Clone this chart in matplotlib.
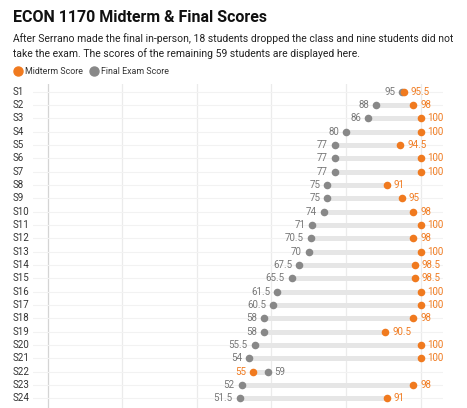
import matplotlib
matplotlib.use("Agg")
import matplotlib.pyplot as plt
from matplotlib.lines import Line2D

plt.rcParams['font.family'] = ['Roboto', 'DejaVu Sans']

students = ["S1", "S2", "S3", "S4", "S5", "S6", "S7", "S8", "S9", "S10", "S11", "S12",
            "S13", "S14", "S15", "S16", "S17", "S18", "S19", "S20", "S21", "S22", "S23", "S24"]
midterm = [95.5, 98, 100, 100, 94.5, 100, 100, 91, 95, 98, 100, 98,
           100, 98.5, 98.5, 100, 100, 98, 90.5, 100, 100, 55, 98, 91]
final = [95, 88, 86, 80, 77, 77, 77, 75, 75, 74, 71, 70.5,
         70, 67.5, 65.5, 61.5, 60.5, 58, 58, 55.5, 54, 59, 52, 51.5]
x_ticks = [0, 20, 40, 60, 80, 100]

ORANGE = "#f07a1f"
GRAY = "#888888"
BAR = "#e6e6e6"

W, H = 467, 408
fig = plt.figure(figsize=(W / 100, H / 100), dpi=100)
fig.patch.set_facecolor("white")

left_px, right_px, top_px, bottom_px = 33, 443, 84, 408
ax = fig.add_axes([left_px / W, 1 - bottom_px / H, (right_px - left_px) / W, (bottom_px - top_px) / H])
ax.set_xlim(-3.9, 106)
ax.set_ylim(23.73, -0.58)
ax.axis("off")

for t in x_ticks:
    ax.axvline(t, color="#d4d4d4" if t == 0 else "#ebebeb", lw=0.9, zorder=0)

def fmt(v):
    return f"{v:g}"

for i, (name, m, f) in enumerate(zip(students, midterm, final)):
    ax.axhline(i, color="#f2f2f2", lw=0.8, zorder=0)
    ax.plot([min(m, f), max(m, f)], [i, i], color=BAR, lw=3.6, solid_capstyle="butt", zorder=1)
    ax.scatter([f], [i], s=30, color=GRAY, zorder=3, linewidths=0)
    ax.scatter([m], [i], s=30, color=ORANGE, zorder=4, linewidths=0)
    if m >= f:
        lo, lo_c, hi, hi_c = f, GRAY, m, ORANGE
    else:
        lo, lo_c, hi, hi_c = m, ORANGE, f, GRAY
    ax.annotate(fmt(lo), (lo, i), xytext=(-5, 0), textcoords="offset points",
                ha="right", va="center", fontsize=7, color="#777777" if lo_c == GRAY else ORANGE)
    ax.annotate(fmt(hi), (hi, i), xytext=(5, 0), textcoords="offset points",
                ha="left", va="center", fontsize=7, color="#777777" if hi_c == GRAY else ORANGE)
    fig.text(13 / W, 1 - (91.7 + 13.33 * i) / H, name, ha="left", va="center",
             fontsize=7, color="#333333")

fig.text(13 / W, 1 - 17 / H, "ECON 1170 Midterm & Final Scores", ha="left", va="center",
         fontsize=11.5, fontweight="bold", color="#111111")
fig.text(13 / W, 1 - 39 / H,
         "After Serrano made the final in-person, 18 students dropped the class and nine students did not",
         ha="left", va="center", fontsize=7.45, color="#222222")
fig.text(13 / W, 1 - 53.5 / H,
         "take the exam. The scores of the remaining 59 students are displayed here.",
         ha="left", va="center", fontsize=7.45, color="#222222")

fig.add_artist(Line2D([18 / W], [1 - 71 / H], marker="o", markersize=6.5, color=ORANGE, lw=0,
                      transform=fig.transFigure))
fig.text(25 / W, 1 - 71 / H, "Midterm Score", ha="left", va="center", fontsize=6.4, color="#333333")
fig.add_artist(Line2D([94 / W], [1 - 71 / H], marker="o", markersize=6.5, color=GRAY, lw=0,
                      transform=fig.transFigure))
fig.text(101 / W, 1 - 71 / H, "Final Exam Score", ha="left", va="center", fontsize=6.4, color="#333333")

fig.savefig("out.png", dpi=100, facecolor="white")
